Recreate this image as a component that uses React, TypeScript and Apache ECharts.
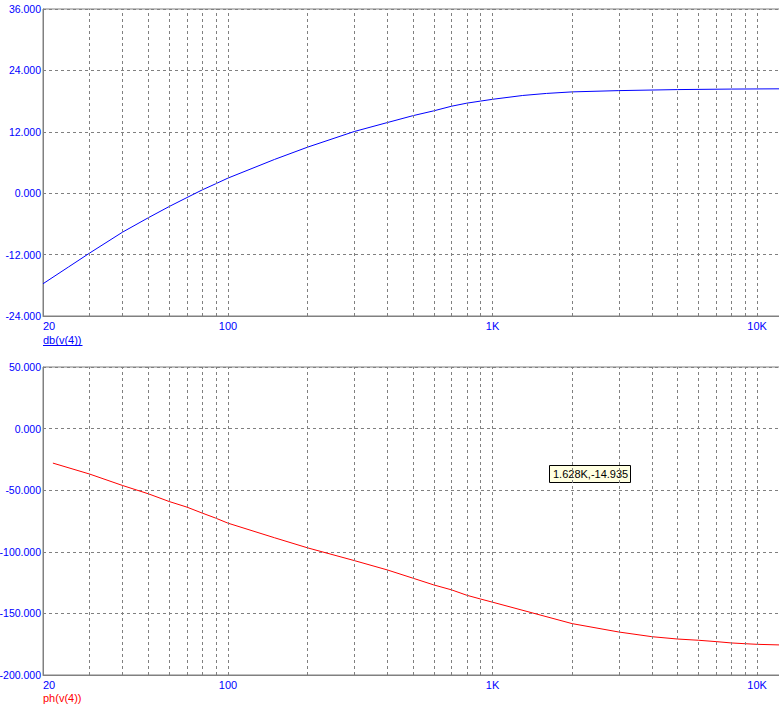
import React, { useEffect, useRef } from "react";
import * as echarts from "echarts";

const freqDb = [20, 25, 30, 40, 50, 60, 70, 80, 90, 100, 150, 200, 300, 400, 500, 600, 700, 800, 900, 1000, 1300, 1600, 2000, 3000, 5000, 8000, 12200];
const dbValues = [-17.7, -14.4, -11.7, -7.6, -4.8, -2.6, -0.85, 0.65, 1.85, 2.95, 6.6, 9.0, 12.05, 13.8, 15.15, 16.1, 17.0, 17.6, 18.0, 18.35, 19.1, 19.5, 19.8, 20.05, 20.25, 20.35, 20.4];

const freqPh = [21.8, 30, 40, 50, 60, 70, 80, 90, 100, 150, 200, 300, 400, 500, 600, 700, 800, 900, 1000, 2000, 3000, 4000, 5000, 6000, 7000, 8000, 9000, 10000, 12200];
const phValues = [-28, -36.9, -46.2, -52.9, -59.2, -63.75, -68.6, -72.7, -76.75, -88.6, -96.8, -107.1, -114.7, -121.4, -126.9, -130.9, -135.3, -138.3, -140.9, -158.3, -165.1, -168.9, -170.8, -171.8, -172.9, -174, -174.6, -175.1, -175.6];

const gridFreqs = [30, 40, 50, 60, 70, 80, 90, 100, 200, 300, 400, 500, 600, 700, 800, 900, 1000, 2000, 3000, 4000, 5000, 6000, 7000, 8000, 9000, 10000];

const dbLabel = "db(v(4))";
const phLabel = "ph(v(4))";
const cursorText = "1.628K,-14.935";

const FONT = "Liberation Sans, Arial, sans-serif";
const GRID_COLOR = "#808080";

function fmtFreq(v: number): string {
  const r = Math.round(v);
  if (r >= 1000) return Math.round(r / 1000) + "K";
  return String(r);
}

export default function App() {
  const ref = useRef<HTMLDivElement>(null);
  useEffect(() => {
    if (!ref.current) return;
    const chart = echarts.init(ref.current, undefined, { renderer: "svg" });

    const xAxisBase = (gridIndex: number) => ({
      type: "log" as const,
      logBase: 10,
      gridIndex,
      min: 20,
      max: 12200,
      axisLine: { show: true, onZero: false, lineStyle: { color: GRID_COLOR, width: 1 } },
      axisTick: { show: false },
      splitLine: { show: false },
      axisLabel: {
        color: "#0000ff",
        fontFamily: FONT,
        fontSize: 11,
        margin: 4,
        showMaxLabel: false,
        alignMinLabel: "left",
        formatter: (v: number) => fmtFreq(v),
      },
    });

    const yAxisBase = (gridIndex: number, min: number, max: number, interval: number) => ({
      type: "value" as const,
      gridIndex,
      min,
      max,
      interval,
      axisLine: { show: true, onZero: false, lineStyle: { color: GRID_COLOR, width: 1 } },
      axisTick: { show: false },
      splitLine: { show: true, lineStyle: { color: GRID_COLOR, type: [3, 3], width: 1 } },
      axisLabel: {
        color: "#0000ff",
        fontFamily: FONT,
        fontSize: 10.5,
        margin: 2,
        formatter: (v: number) => v.toFixed(3),
      },
    });

    const markLine = {
      silent: true,
      symbol: ["none", "none"],
      label: { show: false },
      lineStyle: { color: GRID_COLOR, type: [3, 3], width: 1 },
      data: gridFreqs.map((f) => ({ xAxis: f })),
    };

    const gridBase = {
      left: 43,
      right: -1,
      show: true,
      borderColor: GRID_COLOR,
      borderWidth: 1,
      backgroundColor: "transparent",
      containLabel: false,
      outerBoundsMode: "none",
    };

    const option: any = {
      animation: false,
      backgroundColor: "#ffffff",
      grid: [
        { ...gridBase, top: 9, height: 307 },
        { ...gridBase, top: 367, height: 308 },
      ],
      xAxis: [xAxisBase(0), xAxisBase(1)],
      yAxis: [yAxisBase(0, -24, 36, 12), yAxisBase(1, -200, 50, 50)],
      series: [
        {
          type: "line",
          xAxisIndex: 0,
          yAxisIndex: 0,
          data: freqDb.map((f, i) => [f, dbValues[i]]),
          showSymbol: false,
          silent: true,
          z: 1,
          lineStyle: { opacity: 0 },
          markLine,
        },
        {
          type: "line",
          xAxisIndex: 1,
          yAxisIndex: 1,
          data: freqPh.map((f, i) => [f, phValues[i]]),
          showSymbol: false,
          silent: true,
          z: 1,
          lineStyle: { opacity: 0 },
          markLine,
        },
        {
          name: dbLabel,
          type: "line",
          xAxisIndex: 0,
          yAxisIndex: 0,
          data: freqDb.map((f, i) => [f, dbValues[i]]),
          showSymbol: false,
          smooth: false,
          z: 3,
          lineStyle: { color: "#0000ff", width: 1 },
        },
        {
          name: phLabel,
          type: "line",
          xAxisIndex: 1,
          yAxisIndex: 1,
          data: freqPh.map((f, i) => [f, phValues[i]]),
          showSymbol: false,
          smooth: false,
          z: 3,
          lineStyle: { color: "#ff0000", width: 1 },
        },
      ],
      graphic: [
        {
          type: "text",
          left: 43,
          top: 334,
          style: { text: dbLabel, fill: "#0000ff", font: `11px ${FONT}` },
        },
        {
          type: "line",
          shape: { x1: 43, y1: 345.5, x2: 82.5, y2: 345.5 },
          style: { stroke: "#0000ff", lineWidth: 1 },
        },
        {
          type: "text",
          left: 43,
          top: 692,
          style: { text: phLabel, fill: "#ff0000", font: `11px ${FONT}` },
        },
        {
          type: "group",
          x: 549,
          y: 465,
          z: 10,
          children: [
            {
              type: "rect",
              shape: { x: 0.5, y: 0.5, width: 81, height: 17 },
              style: { fill: "#ffffe1", stroke: "#000000", lineWidth: 1 },
            },
            {
              type: "text",
              x: 4,
              y: 3,
              style: { text: cursorText, fill: "#000000", font: `11px ${FONT}` },
            },
          ],
        },
      ],
    };
    chart.setOption(option);
    return () => chart.dispose();
  }, []);

  return (
    <div
      ref={ref}
      style={{ position: "fixed", left: 0, top: 0, width: 779, height: 715, background: "#fff" }}
    />
  );
}
